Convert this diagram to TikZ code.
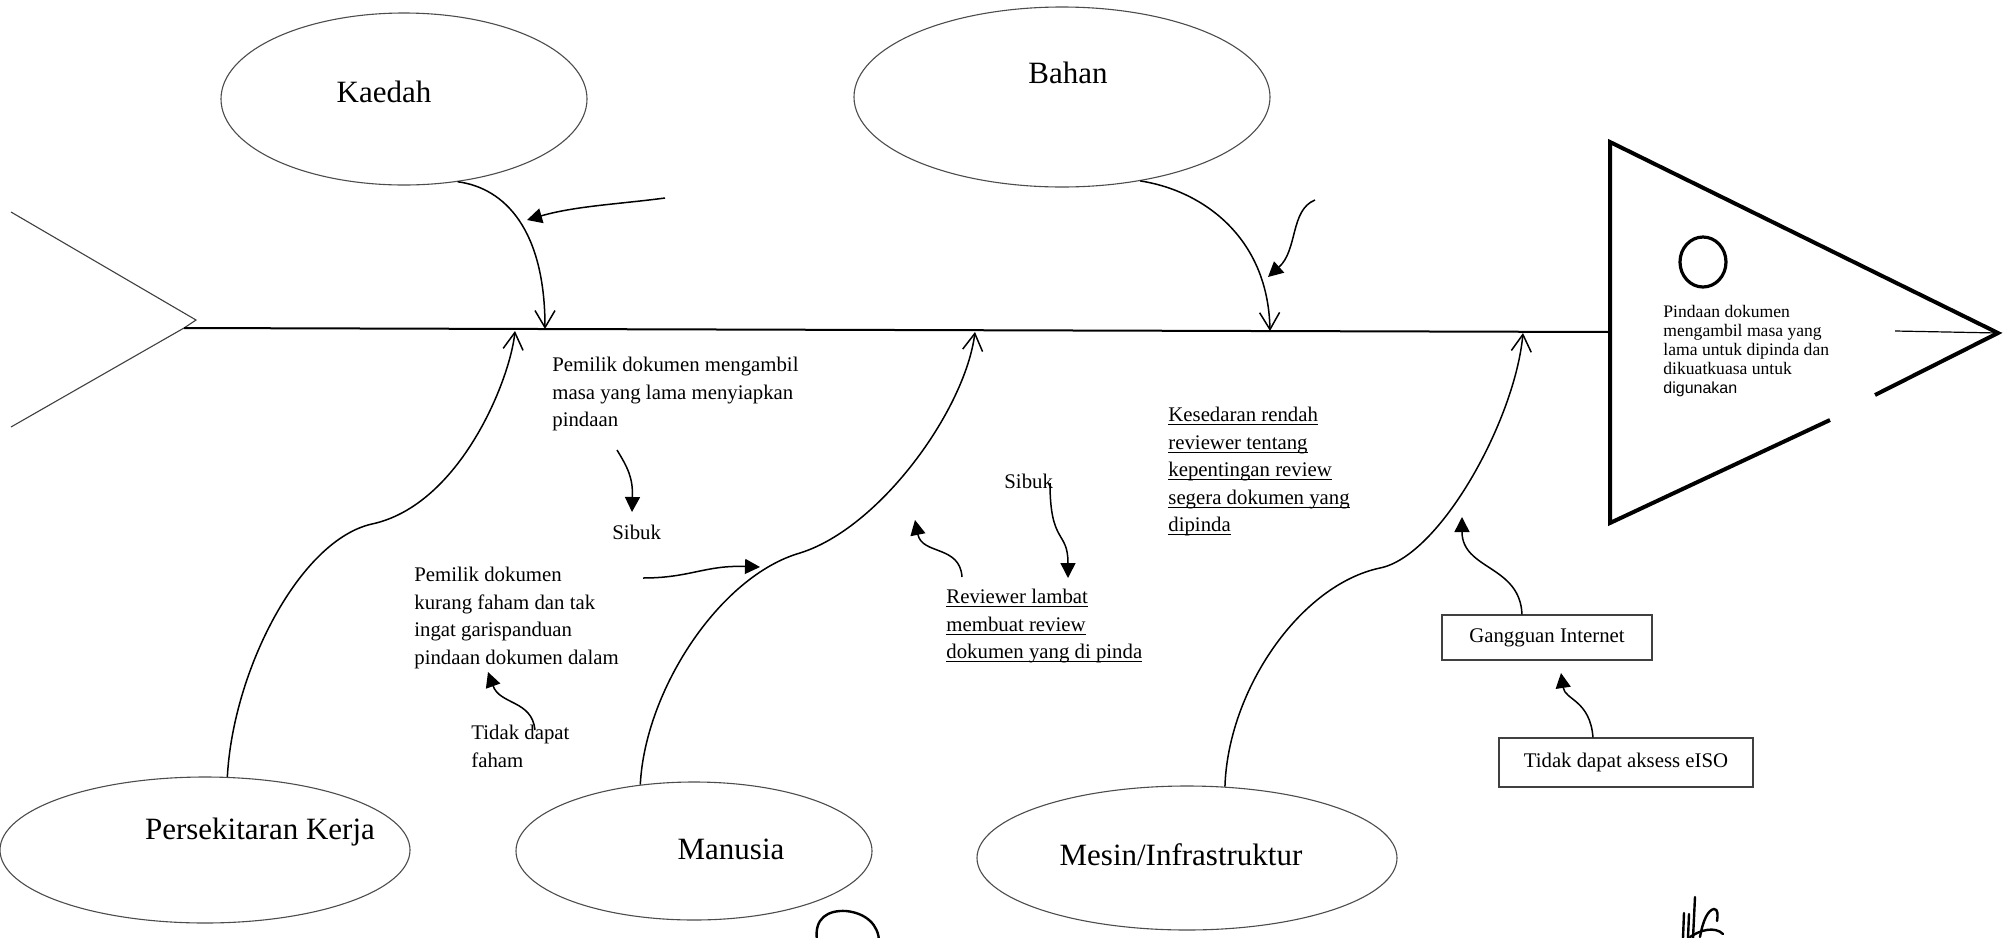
\documentclass[tikz,border=0pt]{standalone}
\usepackage{fontspec}
\setmainfont{Liberation Serif}
\setsansfont{Liberation Sans}
\usetikzlibrary{arrows.meta,shapes.geometric}
\newsavebox\ulbox
\newcommand\myuline[1]{\sbox\ulbox{#1}\rlap{\rule[-1.7pt]{\wd\ulbox}{0.45pt}}\usebox\ulbox}
\begin{document}
\begin{tikzpicture}[x=0.5pt,y=-0.5pt,
  ell/.style={draw=black!70, line width=0.55pt, ellipse, inner sep=0pt},
  lbl/.style={font=\fontsize{15.5}{18}\selectfont, inner sep=0pt, anchor=base},
  txt/.style={font=\fontsize{10.4}{13.75}\selectfont, align=left, anchor=north west, inner sep=0pt},
  bone/.style={line width=0.75pt, -{Straight Barb[length=8.5pt,width=10pt,line width=0.75pt]}},
  sarr/.style={line width=0.75pt, -{Triangle[length=7.5pt,width=7.5pt]}},
  causebox/.style={draw=black!75, line width=0.6pt, rectangle, inner sep=0pt, font=\fontsize{10.4}{12}\selectfont},
  scrib/.style={line width=1.2pt, line cap=round},
]
\fill[white] (0,0) rectangle (2010,938);
\useasboundingbox (0,0) rectangle (2010,938);

% tail
\draw[draw=black!75, line width=0.55pt] (11,212) -- (196,320) -- (184,328) -- (11,427);

% spine
\coordinate (spL) at (184,328);
\coordinate (spR) at (1610,332);
\draw[line width=1pt] (spL) -- (spR);

% head
\draw[line width=2pt, line join=miter] (1875,395) -- (1998,333) -- (1610,142) -- (1610,523) -- (1830,420);
\node[draw, ellipse, line width=1.6pt, inner sep=0pt, minimum width=23pt, minimum height=25pt] (eye) at (1703,262) {};
\coordinate (headIn) at (1895,331);
\coordinate (apex) at (1998,333);
\draw[line width=0.6pt] (headIn) -- (apex);
\node[inner sep=0pt, anchor=north west, align=left, font=\fontsize{8.8}{9.5}\selectfont] (effect) at (1663,305)
  {Pindaan dokumen\\mengambil masa yang\\lama untuk dipinda dan\\dikuatkuasa untuk\\{\sffamily\fontsize{8}{9.5}\selectfont digunakan}};

% category ellipses
\node[ell, minimum width=183pt, minimum height=86pt] (kaedah) at (404,99) {};
\node[ell, minimum width=208pt, minimum height=90pt] (bahan) at (1062,97) {};
\node[ell, minimum width=205pt, minimum height=73pt] (persek) at (205,850) {};
\node[ell, minimum width=178pt, minimum height=69pt] (manusia) at (694,851) {};
\node[ell, minimum width=210pt, minimum height=72pt] (mesin) at (1187,858) {};

\node[lbl] (kaedahL) at (384,102) {Kaedah};
\node[lbl] (bahanL) at (1068,83) {Bahan};
\node[lbl] (persekL) at (260,839) {Persekitaran Kerja};
\node[lbl] (manusiaL) at (731,859) {Manusia};
\node[lbl] (mesinL) at (1181,865) {Mesin/Infrastruktur};

% bone tips on the spine
\coordinate (kTip) at (545,329);
\coordinate (bTip) at (1270,331);
\coordinate (pTip) at (515,331);
\coordinate (mTip) at (975,332);
\coordinate (iTip) at (1523,333);

% bones
\draw[bone] (kaedah.-57) .. controls (505,188) and (545,230) .. (kTip);
\draw[bone] (bahan.-47) .. controls (1200,190) and (1268,235) .. (bTip);
\draw[bone] (persek.73) .. controls (233,670) and (300,540) .. (372,524) .. controls (460,505) and (510,380) .. (pTip);
\draw[bone] (manusia.129) .. controls (645,690) and (720,576) .. (800,553) .. controls (880,528) and (965,410) .. (mTip);
\draw[bone] (mesin.62) .. controls (1228,690) and (1300,585) .. (1380,568) .. controls (1440,556) and (1515,420) .. (iTip);

% cause texts
\node[txt] (pem1) at (552,357) {Pemilik dokumen mengambil\\masa yang lama menyiapkan\\pindaan};
\node[txt] (sibuk1) at (612,525) {Sibuk};
\node[txt] (pem2) at (414,567) {Pemilik dokumen\\kurang faham dan tak\\ingat garispanduan\\pindaan dokumen dalam};
\node[txt] (tdf) at (471,725) {Tidak dapat\\faham};
\node[txt] (sibuk2) at (1004,474) {Sibuk};
\node[txt] (rev) at (946,589) {\myuline{Reviewer lambat}\\\myuline{membuat review}\\\myuline{dokumen yang di pinda}};
\node[txt] (kes) at (1168,407) {\myuline{Kesedaran rendah}\\\myuline{reviewer tentang}\\\myuline{kepentingan review}\\\myuline{segera dokumen yang}\\\myuline{dipinda}};

\node[causebox, minimum width=105pt, minimum height=22.5pt] (gang) at (1547,637.5) {Gangguan Internet};
\node[causebox, minimum width=127pt, minimum height=24.5pt] (aksess) at (1626,762.5) {Tidak dapat aksess eISO};

% small arrows
\coordinate (a1s) at (665,198);  \coordinate (a1e) at (527,220);
\draw[sarr] (a1s) .. controls (620,204) and (575,206) .. (a1e);
\coordinate (a2s) at (1315,200); \coordinate (a2e) at (1268,277);
\draw[sarr] (a2s) .. controls (1290,210) and (1298,250) .. (a2e);
\coordinate (a3s) at (617,450);  \coordinate (a3e) at (632,512);
\draw[sarr] (a3s) .. controls (628,468) and (633,478) .. (a3e);
\coordinate (a4s) at (643,578);  \coordinate (a4e) at (760,567);
\draw[sarr] (a4s) .. controls (690,578) and (705,565) .. (a4e);
\coordinate (a5s) at (535,730);  \coordinate (a5e) at (488,672);
\draw[sarr] (a5s) .. controls (532,700) and (500,705) .. (a5e);
\coordinate (a6s) at (1050,483); \coordinate (a6e) at (1068,578);
\draw[sarr] (a6s) .. controls (1050,545) and (1068,530) .. (a6e);
\coordinate (a7s) at (962,577);  \coordinate (a7e) at (915,520);
\draw[sarr] (a7s) .. controls (960,545) and (922,555) .. (a7e);
\coordinate (a8e) at (1462,517);
\draw[sarr] ([xshift=-12.5pt]gang.north) .. controls (1520,565) and (1462,570) .. (a8e);
\coordinate (a9e) at (1561,673);
\draw[sarr] ([xshift=-16.5pt]aksess.north) .. controls (1590,700) and (1565,700) .. (a9e);

% handwritten marks
\draw[scrib] (817,940) .. controls (814,918) and (828,910) .. (846,911) .. controls (866,913) and (879,925) .. (879,942);
\draw[scrib] (1683,938) -- (1684,913);
\draw[scrib] (1688,938) -- (1689,914);
\draw[scrib] (1693,938) -- (1695,897);
\draw[scrib] (1700,937) .. controls (1703,920) and (1708,910) .. (1714,909) .. controls (1718,909) and (1718,915) .. (1717,921);
\draw[scrib] (1690,937) .. controls (1700,930) and (1715,926) .. (1723,934);
\end{tikzpicture}
\end{document}
